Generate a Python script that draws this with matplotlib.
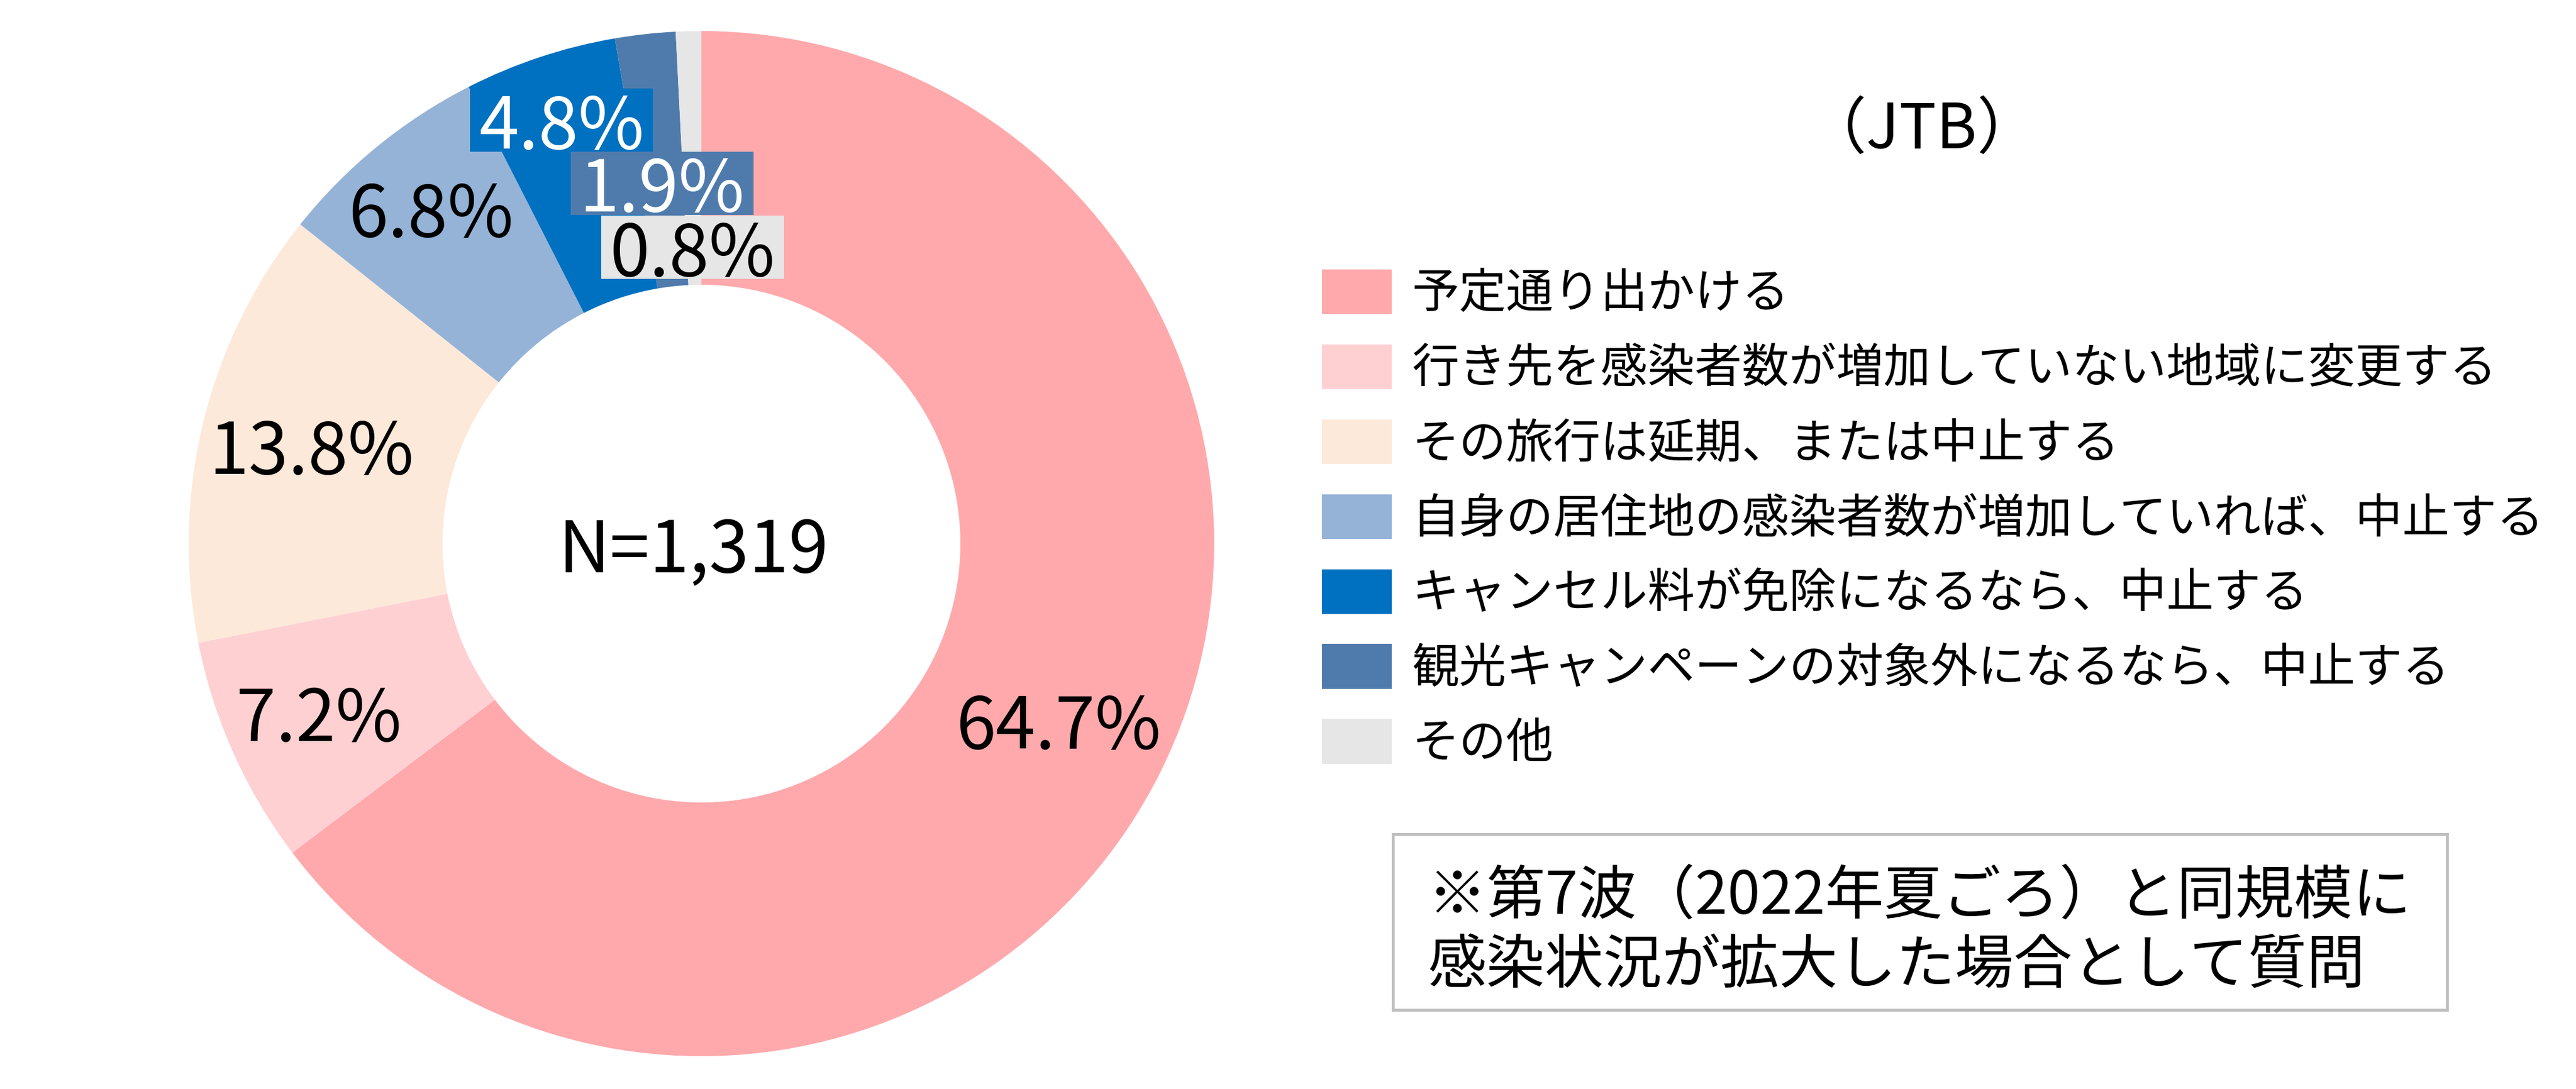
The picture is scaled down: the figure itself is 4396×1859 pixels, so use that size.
import matplotlib
matplotlib.use('Agg')
import matplotlib.pyplot as plt
from matplotlib.patches import Patch, Rectangle

plt.rcParams['font.family'] = ['Noto Sans CJK JP', 'DejaVu Sans']

# data
labels = [
    '予定通り出かける',
    '行き先を感染者数が増加していない地域に変更する',
    'その旅行は延期、または中止する',
    '自身の居住地の感染者数が増加していれば、中止する',
    'キャンセル料が免除になるなら、中止する',
    '観光キャンペーンの対象外になるなら、中止する',
    'その他',
]
values = [64.7, 7.2, 13.8, 6.8, 4.8, 1.9, 0.8]
colors = ['#FFA9AC', '#FFD0D2', '#FDE9DA', '#95B3D7', '#0070C0', '#4F7BAC', '#E6E6E6']
n_total = 1319
source = '（JTB）'
note_lines = ['※第7波（2022年夏ごろ）と同規模に', '感染状況が拡大した場合として質問']

# label layout (pie radius units) and styles
label_pos = [(0.696, -0.345), (-0.746, -0.330), (-0.761, 0.191), (-0.528, 0.654),
             (-0.273, 0.826), (-0.077, 0.703), (-0.017, 0.578)]
label_color = ['black', 'black', 'black', 'black', 'white', 'white', 'black']
label_boxed = [False, False, False, False, True, True, True]

W, H, DPI = 4396, 1859, 200
fig = plt.figure(figsize=(W / DPI, H / DPI), dpi=DPI)

# donut
cx, cy, R = 1197, 928, 875
ax = fig.add_axes([(cx - R) / W, (H - cy - R) / H, 2 * R / W, 2 * R / H])
ax.pie(values, colors=colors, startangle=90, counterclock=False, radius=1,
       wedgeprops=dict(width=0.495, linewidth=0))
ax.set_xlim(-1, 1)
ax.set_ylim(-1, 1)
ax.set_aspect('equal')
ax.axis('off')

box_w, box_h = 312 / R, 108 / R
for v, (x, y), tc, boxed, c in zip(values, label_pos, label_color, label_boxed, colors):
    if boxed:
        ax.add_patch(Rectangle((x - box_w / 2, y - box_h / 2), box_w, box_h,
                               facecolor=c, edgecolor='none', zorder=3))
    ax.text(x, y, f'{v:.1f}%', ha='center', va='center_baseline',
            fontsize=44, color=tc, zorder=4)

ax.text(-0.015, 0.0, f'N={n_total:,}', ha='center', va='center_baseline', fontsize=44)

# legend
handles = [Patch(facecolor=c, edgecolor='none') for c in colors]
fig.legend(handles, labels, loc='upper left', bbox_to_anchor=(2256 / W, 1 - 460 / H),
           frameon=False, fontsize=29, handlelength=1.477, handleheight=1.08,
           handletextpad=0.43, labelspacing=0.55, borderpad=0, borderaxespad=0)

# source
fig.text(3280 / W, 1 - 211 / H, source, ha='center', va='center_baseline', fontsize=38)

# note box
fig.add_artist(Rectangle((2377 / W, 1 - 1724 / H), 1799 / W, 300 / H,
                         transform=fig.transFigure, facecolor='white',
                         edgecolor='#BFBFBF', linewidth=1.8))
for line, y in zip(note_lines, [1520, 1638]):
    fig.text(2437 / W, 1 - y / H, line, ha='left', va='center_baseline', fontsize=36)

fig.savefig('out.png', dpi=DPI)
